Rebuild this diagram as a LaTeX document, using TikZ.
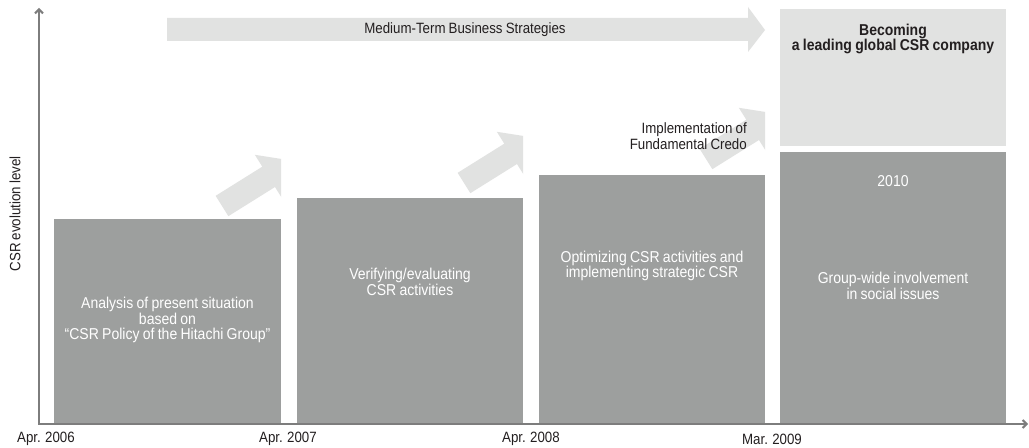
\documentclass[tikz,border=0pt]{standalone}
\usepackage{fontspec}
\setmainfont{Liberation Sans}[FakeStretch=0.89,WordSpace=0.85]
\usetikzlibrary{arrows.meta}
\newlength\px \setlength\px{0.75pt}
\definecolor{boxgray}{RGB}{157,159,158}
\definecolor{palegray}{RGB}{225,226,225}
\definecolor{axisgray}{RGB}{125,125,125}
\definecolor{txtdark}{RGB}{35,31,32}
\begin{document}
\begin{tikzpicture}[x=0.75pt,y=-0.75pt,
  stage/.style={fill=boxgray, draw=none, inner sep=0pt, anchor=north west},
  goal/.style={fill=palegray, draw=none, inner sep=0pt, anchor=north west},
  boxtext/.style={text=white, font=\fontsize{11.8}{11.6}\selectfont, align=center, inner sep=0pt},
  labeltext/.style={text=txtdark, font=\fontsize{11.2}{11.6}\selectfont, inner sep=0pt},
  axis/.style={draw=axisgray, line width=1.5pt, arrows={Straight Barb[length=3pt,width=6pt]-Straight Barb[length=3pt,width=6pt]}},
  grow/.pic={\fill[palegray] (0,-12) -- (55,-12) -- (55,-26) -- (85,0) -- (55,26) -- (55,12) -- (0,12) -- cycle;}
]
\useasboundingbox (0,0) rectangle (1029,448);
\fill[white] (0,0) rectangle (1029,448);

% long arrow
\fill[palegray] (167,18) -- (748,18) -- (748,7) -- (765,30) -- (748,52) -- (748,41) -- (167,41) -- cycle;
\node[labeltext] (mts) at (465,30) {Medium-Term Business Strategies};

% stage boxes
\node[stage, minimum width=227\px, minimum height=205\px] (s1) at (54,219) {};
\node[stage, minimum width=226\px, minimum height=226\px] (s2) at (297,198) {};
\node[stage, minimum width=226\px, minimum height=249\px] (s3) at (539,175) {};
\node[stage, minimum width=226\px, minimum height=272\px] (s4) at (780,152) {};
\node[goal, minimum width=226\px, minimum height=137\px] (g) at (780,9) {};

% diagonal arrows
\begin{scope}
  \clip (0,0) rectangle (281,448);
  \pic[rotate=32] at (222,206) {grow};
\end{scope}
\begin{scope}
  \clip (0,0) rectangle (523,448);
  \pic[rotate=32] at (464,183) {grow};
\end{scope}
\begin{scope}
  \clip (0,0) rectangle (765,448);
  \pic[rotate=32] at (706,159) {grow};
\end{scope}

% texts
\node[boxtext] (t1) at (167.5,320) {Analysis of present situation\\based on\\``CSR Policy of the Hitachi Group''};
\node[boxtext] (t2) at (410,282) {Verifying/evaluating\\CSR activities};
\node[boxtext] (t3) at (652,266) {Optimizing CSR activities and\\implementing strategic CSR};
\node[boxtext] (t4a) at (893,181) {2010};
\node[boxtext] (t4b) at (893,286) {Group-wide involvement\\in social issues};
\node[labeltext, align=center, font=\fontsize{11.8}{11.6}\selectfont\bfseries] (tg) at (893,39) {Becoming\\a leading global CSR company};
\node[labeltext, align=right, anchor=east] (impl) at (747,136) {Implementation of\\Fundamental Credo};

% axes
\coordinate (O) at (39,424);
\coordinate (ytop) at (39,8);
\coordinate (xend) at (1028,424);
\draw[axis] (ytop) -- (O) -- (xend);
\node[labeltext, rotate=90] (ylab) at (15,214) {CSR evolution level};

% dates
\node[labeltext] (d1) at (46,439) {Apr. 2006};
\node[labeltext] (d2) at (288,439) {Apr. 2007};
\node[labeltext] (d3) at (531,439) {Apr. 2008};
\node[labeltext] (d4) at (772,439) {Mar. 2009};
\end{tikzpicture}
\end{document}
